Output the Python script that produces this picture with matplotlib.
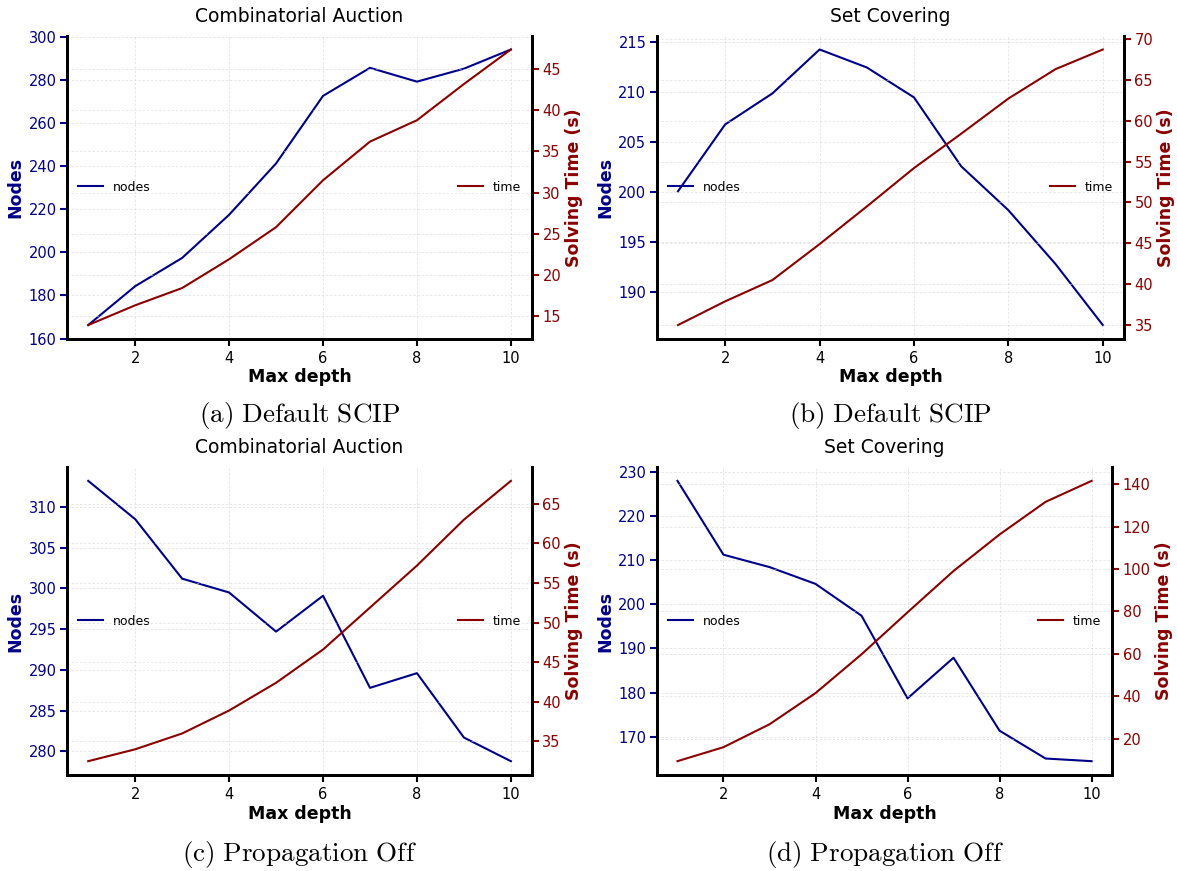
import matplotlib.pyplot as plt
import numpy as np

plt.rcParams['mathtext.fontset'] = 'cm'

depth = np.arange(1, 11)

# (a) Combinatorial Auction, default SCIP
ca_nodes_default = [166.3, 184.3, 197.4, 217.4, 241.2, 272.5, 285.5, 279.1, 285.1, 294.0]
ca_time_default = [13.9, 16.3, 18.4, 21.9, 25.8, 31.5, 36.2, 38.8, 43.2, 47.4]
# (b) Set Covering, default SCIP
sc_nodes_default = [200.1, 206.8, 209.9, 214.3, 212.5, 209.5, 202.6, 198.2, 192.8, 186.7]
sc_time_default = [35.0, 37.9, 40.5, 44.9, 49.5, 54.2, 58.4, 62.7, 66.3, 68.7]
# (c) Combinatorial Auction, propagation off
ca_nodes_prop = [313.2, 308.5, 301.2, 299.5, 294.7, 299.1, 287.8, 289.6, 281.7, 278.8]
ca_time_prop = [32.5, 34.0, 36.0, 38.9, 42.4, 46.6, 51.9, 57.2, 63.0, 67.9]
# (d) Set Covering, propagation off
sc_nodes_prop = [227.9, 211.2, 208.4, 204.6, 197.4, 178.7, 187.9, 171.4, 165.1, 164.5]
sc_time_prop = [9.4, 16.0, 26.8, 41.5, 59.8, 79.6, 99.1, 116.3, 131.7, 141.6]

panels = [
    ('Combinatorial Auction', ca_nodes_default, ca_time_default, r'$\mathrm{(a)\ Default\ SCIP}$'),
    ('Set Covering', sc_nodes_default, sc_time_default, r'$\mathrm{(b)\ Default\ SCIP}$'),
    ('Combinatorial Auction', ca_nodes_prop, ca_time_prop, r'$\mathrm{(c)\ Propagation\ Off}$'),
    ('Set Covering', sc_nodes_prop, sc_time_prop, r'$\mathrm{(d)\ Propagation\ Off}$'),
]

# axes boxes in figure fractions [left, bottom, width, height]
boxes = [
    [0.057, 0.611, 0.395, 0.348],
    [0.558, 0.611, 0.397, 0.348],
    [0.057, 0.110, 0.395, 0.354],
    [0.558, 0.110, 0.387, 0.354],
]
caption_y = [0.5225, 0.0185]

fig = plt.figure(figsize=(11.77, 8.71), dpi=100)

for i, (title, nodes, times, caption) in enumerate(panels):
    ax = fig.add_axes(boxes[i])
    ax2 = ax.twinx()

    ax.plot(depth, nodes, color='darkblue', linewidth=1.5, label='nodes')
    ax2.plot(depth, times, color='darkred', linewidth=1.5, label='time')

    ax.set_title(title, fontsize=13.5, pad=10)
    ax.set_xlabel('Max depth', fontsize=12.5, fontweight='bold', labelpad=2)
    ax.set_ylabel('Nodes', fontsize=12.5, fontweight='bold', color='darkblue', labelpad=3)
    ax2.set_ylabel('Solving Time (s)', fontsize=12.5, fontweight='bold', color='darkred', labelpad=3)

    ax.tick_params(axis='y', colors='darkblue', labelsize=10.5, width=1.5, length=5, pad=2.5)
    ax.tick_params(axis='x', labelsize=10.5, width=1.5, length=5)
    ax2.tick_params(axis='y', colors='darkred', labelsize=10.5, width=1.5, length=5, pad=2.5)

    ax.grid(True, linestyle=(0, (3, 2)), linewidth=0.6, color='lightgray', alpha=0.6)
    ax2.grid(True, linestyle=(0, (3, 2)), linewidth=0.6, color='lightgray', alpha=0.6)

    for a in (ax, ax2):
        a.spines['top'].set_visible(False)
        for s in ('left', 'right', 'bottom'):
            a.spines[s].set_linewidth(2)

    ax.legend(loc='center left', frameon=False, fontsize=9)
    ax2.legend(loc='center right', frameon=False, fontsize=9)

    b = boxes[i]
    fig.text(b[0] + b[2] / 2, caption_y[i // 2], caption, ha='center', va='center', fontsize=19.5)

fig.savefig('out.png', dpi=100)
